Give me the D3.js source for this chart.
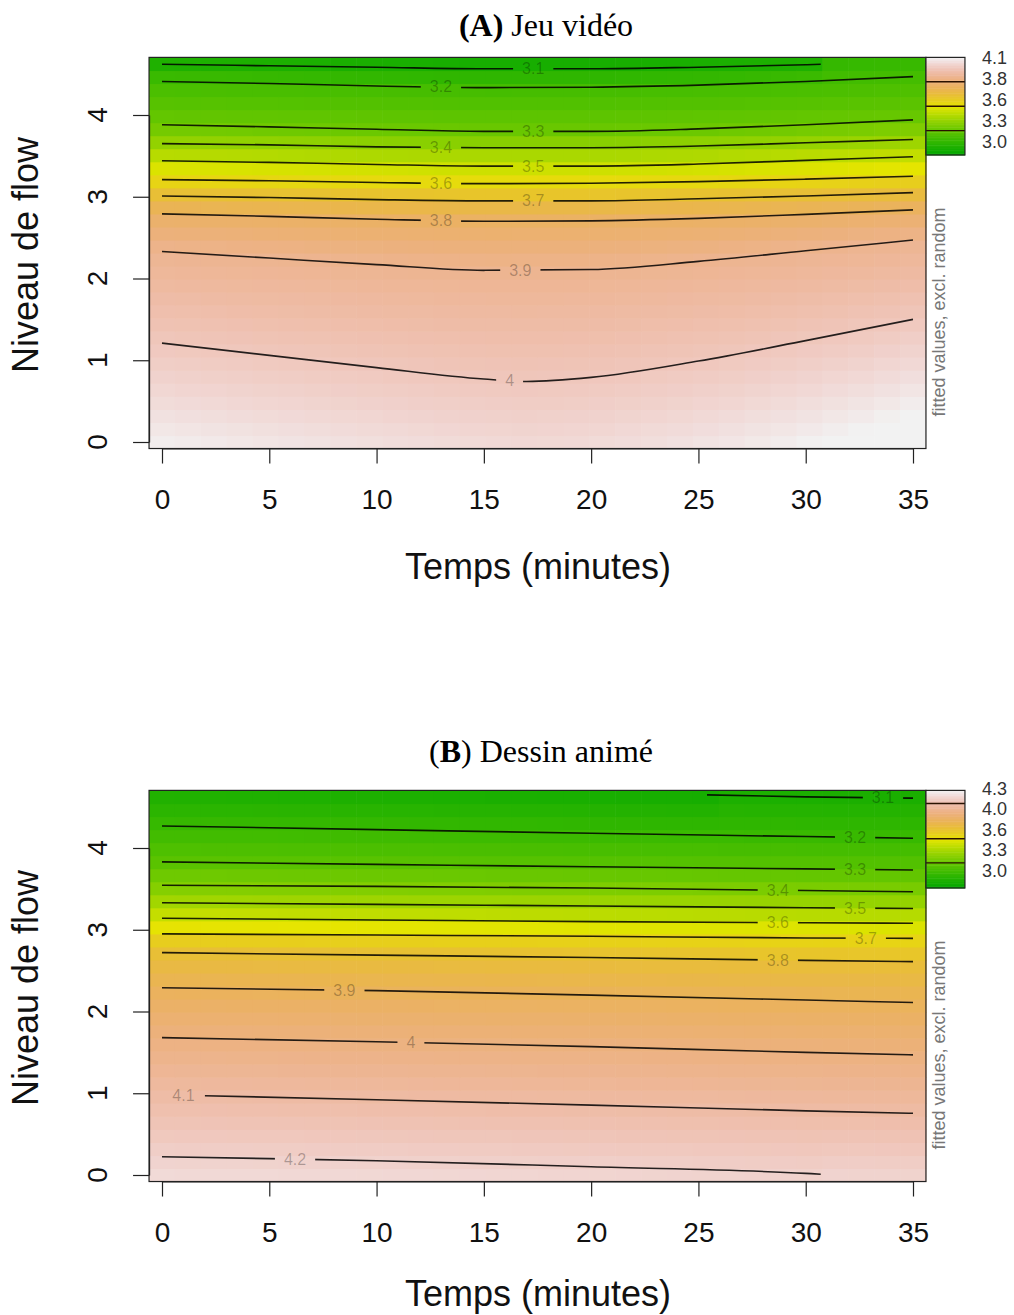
<!DOCTYPE html>
<html><head><meta charset="utf-8">
<script src="https://cdn.jsdelivr.net/npm/d3@7"></script>
<style>body{margin:0;background:#fff}svg{display:block}</style>
</head><body>
<svg id="c" width="1014" height="1315"></svg>
<script>
// ---------- data ----------
const timeTicks = [0, 5, 10, 15, 20, 25, 30, 35];
const flowTicks = [0, 1, 2, 3, 4];
const titleA = ["(A)", " Jeu vidéo"];
const titleB = ["(", "B", ") Dessin animé"];
const xTitle = "Temps (minutes)";
const yTitle = "Niveau de flow";
const legendTitle = "fitted values, excl. random";

const zlimA = [3.0, 4.12];
const zlimB = [3.0, 4.3];
const legendLabelsA = ["4.1", "3.8", "3.6", "3.3", "3.0"];
const legendLabelsB = ["4.3", "4.0", "3.6", "3.3", "3.0"];
const legendBreaksA = [3.28, 3.56, 3.84];
const legendBreaksB = [3.335, 3.655, 4.125];

// contour lines: level, label, label position (minutes), points [minutes, flow]
const contoursA = [
  {level: 3.1, text: "3.1", at: 17.3, pts: [[0,4.62],[5,4.602],[10,4.584],[15,4.565],[20,4.565],[25,4.585],[30,4.615],[30.7,4.62]]},
  {level: 3.2, text: "3.2", at: 13.0, pts: [[0,4.41],[5,4.385],[10,4.355],[15,4.335],[20,4.34],[25,4.365],[30,4.41],[35,4.47]]},
  {level: 3.3, text: "3.3", at: 17.3, pts: [[0,3.88],[5,3.855],[10,3.825],[15,3.80],[20,3.80],[25,3.83],[30,3.88],[35,3.94]]},
  {level: 3.4, text: "3.4", at: 13.0, pts: [[0,3.65],[5,3.635],[10,3.61],[15,3.60],[20,3.60],[25,3.62],[30,3.66],[35,3.70]]},
  {level: 3.5, text: "3.5", at: 17.3, pts: [[0,3.44],[5,3.42],[10,3.395],[15,3.375],[20,3.375],[25,3.40],[30,3.445],[35,3.49]]},
  {level: 3.6, text: "3.6", at: 13.0, pts: [[0,3.21],[5,3.195],[10,3.175],[15,3.16],[20,3.165],[25,3.185],[30,3.215],[35,3.25]]},
  {level: 3.7, text: "3.7", at: 17.3, pts: [[0,3.01],[5,2.99],[10,2.965],[15,2.95],[20,2.95],[25,2.975],[30,3.01],[35,3.05]]},
  {level: 3.8, text: "3.8", at: 13.0, pts: [[0,2.79],[5,2.76],[10,2.725],[15,2.70],[20,2.705],[25,2.735],[30,2.785],[35,2.84]]},
  {level: 3.9, text: "3.9", at: 16.7, pts: [[0,2.33],[5,2.25],[10,2.17],[15,2.10],[20,2.11],[25,2.21],[30,2.34],[35,2.47]]},
  {level: 4.0, text: "4", at: 16.2, pts: [[0,1.21],[5,1.06],[10,0.91],[15,0.77],[17,0.74],[20,0.79],[25,0.99],[30,1.24],[35,1.50]]}
];
const contoursB = [
  {level: 3.1, text: "3.1", at: 33.6, pts: [[25.4,4.65],[30,4.625],[35,4.61]]},
  {level: 3.2, text: "3.2", at: 32.3, pts: [[0,4.27],[10,4.225],[20,4.18],[30,4.14],[35,4.12]]},
  {level: 3.3, text: "3.3", at: 32.3, pts: [[0,3.83],[10,3.80],[20,3.77],[30,3.745],[35,3.73]]},
  {level: 3.4, text: "3.4", at: 28.7, pts: [[0,3.545],[10,3.53],[20,3.51],[30,3.48],[35,3.465]]},
  {level: 3.5, text: "3.5", at: 32.3, pts: [[0,3.33],[10,3.31],[20,3.29],[30,3.27],[35,3.26]]},
  {level: 3.6, text: "3.6", at: 28.7, pts: [[0,3.14],[10,3.12],[20,3.10],[30,3.085],[35,3.08]]},
  {level: 3.7, text: "3.7", at: 32.8, pts: [[0,2.95],[10,2.935],[20,2.92],[30,2.90],[35,2.895]]},
  {level: 3.8, text: "3.8", at: 28.7, pts: [[0,2.72],[10,2.69],[20,2.66],[30,2.625],[35,2.61]]},
  {level: 3.9, text: "3.9", at: 8.5, pts: [[0,2.29],[10,2.255],[20,2.20],[30,2.14],[35,2.11]]},
  {level: 4.0, text: "4", at: 11.6, pts: [[0,1.68],[10,1.63],[20,1.57],[30,1.50],[35,1.47]]},
  {level: 4.1, text: "4.1", at: 1.0, lineFrom: 2, pts: [[0,0.985],[2,0.97],[10,0.92],[20,0.855],[30,0.785],[35,0.755]]},
  {level: 4.2, text: "4.2", at: 6.2, pts: [[0,0.224],[5,0.20],[10,0.175],[20,0.10],[30,0.02],[30.7,0.01]]}
];

// ---------- helpers ----------
function hsv(h, s, v) {
  const i = Math.floor(h * 6), f = h * 6 - i;
  const p = v * (1 - s), q = v * (1 - f * s), t = v * (1 - (1 - f) * s);
  let r, g, b;
  switch (((i % 6) + 6) % 6) {
    case 0: r = v; g = t; b = p; break;
    case 1: r = q; g = v; b = p; break;
    case 2: r = p; g = v; b = t; break;
    case 3: r = p; g = q; b = v; break;
    case 4: r = t; g = p; b = v; break;
    default: r = v; g = p; b = q;
  }
  return d3.rgb(r * 255, g * 255, b * 255).formatHex();
}
// R terrain.colors as a continuous ramp
function terrain(t) {
  t = Math.max(0, Math.min(1, t));
  if (t <= 0.5) {
    const u = t / 0.5;
    return hsv(1/3 + (1/6 - 1/3) * u, 1, 0.65 + 0.25 * u);
  }
  const u = (t - 0.5) / 0.5;
  return hsv(1/6 * (1 - u), 1 - u, 0.9 + 0.05 * u);
}
function yOn(pts, x) {
  if (x < pts[0][0] || x > pts[pts.length - 1][0]) return null;
  for (let i = 0; i < pts.length - 1; i++) {
    const a = pts[i], b = pts[i + 1];
    if (x >= a[0] && x <= b[0]) return a[1] + (b[1] - a[1]) * (x - a[0]) / (b[0] - a[0]);
  }
  return pts[pts.length - 1][1];
}
function zAt(contours, x, y, zlim) {
  const c = contours.map(k => { const yy = yOn(k.pts, x); return yy == null ? null : {z: k.level, y: yy}; })
    .filter(Boolean).sort((a, b) => a.y - b.y);
  let z;
  const n = c.length;
  if (y <= c[0].y) {
    const a = c[0], b = c[1];
    z = a.z + (b.z - a.z) / (b.y - a.y) * (y - a.y);
  } else if (y >= c[n - 1].y) {
    const a = c[n - 2], b = c[n - 1];
    z = b.z + (b.z - a.z) / (b.y - a.y) * (y - b.y);
  } else {
    for (let i = 0; i < n - 1; i++) {
      if (y >= c[i].y && y <= c[i + 1].y) {
        z = c[i].z + (c[i + 1].z - c[i].z) * (y - c[i].y) / (c[i + 1].y - c[i].y);
        break;
      }
    }
  }
  return Math.max(zlim[0], Math.min(zlim[1], z));
}

// ---------- drawing ----------
const svg = d3.select("#c");
const defs = svg.append("defs");
const SANS = "'Liberation Sans', Arial, Helvetica, sans-serif";
const SERIF = "'Liberation Serif', 'Times New Roman', serif";

const panels = [
  {id: "A", contours: contoursA, zlim: zlimA, labels: legendLabelsA, breaks: legendBreaksA,
   title: titleA, titleBold: [true, false], titleX: 546, titleY: 36, xTitleY: 579, dy: 0},
  {id: "B", contours: contoursB, zlim: zlimB, labels: legendLabelsB, breaks: legendBreaksB,
   title: titleB, titleBold: [false, true, false], titleX: 541, titleY: 762, xTitleY: 1306, dy: 733}
];

const x = d3.scaleLinear().domain([0, 35]).range([162, 913]);
const nGrid = 30;
const yMaxGrid = 4.625;
const gx = d3.range(nGrid).map(i => 35 * i / (nGrid - 1));
const gy = d3.range(nGrid).map(j => yMaxGrid * j / (nGrid - 1));
const hx = 35 / (nGrid - 1) / 2, hy = yMaxGrid / (nGrid - 1) / 2;

panels.forEach(p => {
  const y = d3.scaleLinear().domain([0, 4]).range([442 + p.dy, 115 + p.dy]);
  const left = x(-hx), right = x(35 + hx), top = y(yMaxGrid + hy), bottom = y(-hy);
  const g = svg.append("g");

  defs.append("clipPath").attr("id", "clip" + p.id)
    .append("rect").attr("x", left).attr("y", top).attr("width", right - left).attr("height", bottom - top);

  // image cells
  const cells = [];
  gx.forEach(xi => gy.forEach(yj => cells.push({x: xi, y: yj, z: zAt(p.contours, xi, yj, p.zlim)})));
  const col = z => terrain((z - p.zlim[0]) / (p.zlim[1] - p.zlim[0]));
  g.append("g").selectAll("rect").data(cells).join("rect")
    .attr("x", d => x(d.x - hx)).attr("y", d => y(d.y + hy))
    .attr("width", d => x(d.x + hx) - x(d.x - hx) + 0.6)
    .attr("height", d => y(d.y - hy) - y(d.y + hy) + 0.6)
    .attr("fill", d => col(d.z));

  // contour lines with label gaps
  const mask = defs.append("mask").attr("id", "mask" + p.id).attr("maskUnits", "userSpaceOnUse")
    .attr("x", 0).attr("y", 0).attr("width", 1014).attr("height", 1315);
  mask.append("rect").attr("x", 0).attr("y", 0).attr("width", 1014).attr("height", 1315).attr("fill", "#fff");
  const line = d3.line().x(d => x(d[0])).y(d => y(d[1])).curve(d3.curveMonotoneX);
  g.append("g").attr("clip-path", `url(#clip${p.id})`)
    .append("g").attr("mask", `url(#mask${p.id})`)
    .selectAll("path").data(p.contours).join("path")
    .attr("d", d => line(d.lineFrom != null ? d.pts.filter(q => q[0] >= d.lineFrom) : d.pts))
    .attr("fill", "none")
    .attr("stroke", "#000").attr("stroke-opacity", 0.85).attr("stroke-width", 1.6);
  const labs = g.append("g").selectAll("text").data(p.contours).join("text")
    .attr("x", d => x(d.at)).attr("y", d => y(yOn(d.pts, d.at)))
    .attr("text-anchor", "middle").attr("dominant-baseline", "central")
    .attr("font-family", SANS).attr("font-size", 16)
    .attr("fill", "#000").attr("fill-opacity", 0.28)
    .text(d => d.text);
  labs.each(function(d) {
    const w = this.getComputedTextLength() + 18;
    const lx = Math.max(left, x(d.at) - w / 2);
    mask.append("rect").attr("x", lx).attr("y", y(yOn(d.pts, d.at)) - 6)
      .attr("width", x(d.at) + w / 2 - lx).attr("height", 12).attr("fill", "#000");
  });

  // frame
  g.append("rect").attr("x", left).attr("y", top).attr("width", right - left).attr("height", bottom - top)
    .attr("fill", "none").attr("stroke", "#222").attr("stroke-width", 1.2);

  // axes
  const xa = g.append("g").attr("transform", `translate(0,${bottom})`)
    .call(d3.axisBottom(x).tickValues(timeTicks).tickSize(15).tickSizeOuter(0).tickPadding(26));
  xa.selectAll("text").attr("font-family", SANS).attr("font-size", 28).attr("fill", "#111");
  xa.selectAll("line,path").attr("stroke", "#222").attr("stroke-width", 1.2);

  const ya = g.append("g").attr("transform", `translate(${left},0)`)
    .call(d3.axisLeft(y).tickValues(flowTicks).tickSize(16).tickSizeOuter(0).tickFormat(""));
  ya.selectAll("line,path").attr("stroke", "#222").attr("stroke-width", 1.2);
  g.append("g").selectAll("text").data(flowTicks).join("text")
    .attr("transform", d => `translate(107,${y(d)}) rotate(-90)`)
    .attr("text-anchor", "middle").attr("font-family", SANS).attr("font-size", 28).attr("fill", "#111")
    .text(d => d);

  // axis titles
  g.append("text").attr("x", 538).attr("y", p.xTitleY).attr("text-anchor", "middle")
    .attr("font-family", SANS).attr("font-size", 36).attr("fill", "#111").text(xTitle);
  g.append("text").attr("transform", `translate(38,${255 + p.dy}) rotate(-90)`).attr("text-anchor", "middle")
    .attr("font-family", SANS).attr("font-size", 36).attr("fill", "#111").text(yTitle);

  // title
  const t = g.append("text").attr("x", p.titleX).attr("y", p.titleY).attr("text-anchor", "middle")
    .attr("font-family", SERIF).attr("font-size", 32).attr("fill", "#000");
  p.title.forEach((s, i) => t.append("tspan").attr("font-weight", p.titleBold[i] ? "bold" : "normal").text(s));

  // legend (gradient key)
  const legendH = 97.6;
  const ly = d3.scaleLinear().domain(p.zlim).range([top + legendH, top]);
  const lx0 = right, lx1 = right + 39;
  const nSteps = 60;
  const stepH = (p.zlim[1] - p.zlim[0]) / nSteps;
  const steps = d3.range(nSteps).map(i => p.zlim[0] + stepH * i);
  g.append("g").selectAll("rect").data(steps).join("rect")
    .attr("x", lx0).attr("width", lx1 - lx0)
    .attr("y", d => ly(d + stepH)).attr("height", d => ly(d) - ly(d + stepH) + 0.5)
    .attr("fill", d => col(d + stepH / 2));
  g.append("g").selectAll("line").data(p.breaks).join("line")
    .attr("x1", lx0).attr("x2", lx1).attr("y1", d => ly(d)).attr("y2", d => ly(d))
    .attr("stroke", "#2a1200").attr("stroke-width", 1.4);
  g.append("rect").attr("x", lx0).attr("y", top).attr("width", lx1 - lx0).attr("height", legendH)
    .attr("fill", "none").attr("stroke", "#222").attr("stroke-width", 1.2);
  const lpos = d3.scalePoint().domain(p.labels).range([58 + p.dy * 0.997, 142 + p.dy * 0.994]);
  g.append("g").selectAll("text").data(p.labels).join("text")
    .attr("x", 982).attr("y", d => lpos(d)).attr("dominant-baseline", "central")
    .attr("font-family", SANS).attr("font-size", 18).attr("fill", "#333").text(d => d);
  g.append("text").attr("transform", `translate(945,${312 + p.dy}) rotate(-90)`).attr("text-anchor", "middle")
    .attr("font-family", SANS).attr("font-size", 18).attr("fill", "#777").text(legendTitle);
});
</script>
</body></html>
